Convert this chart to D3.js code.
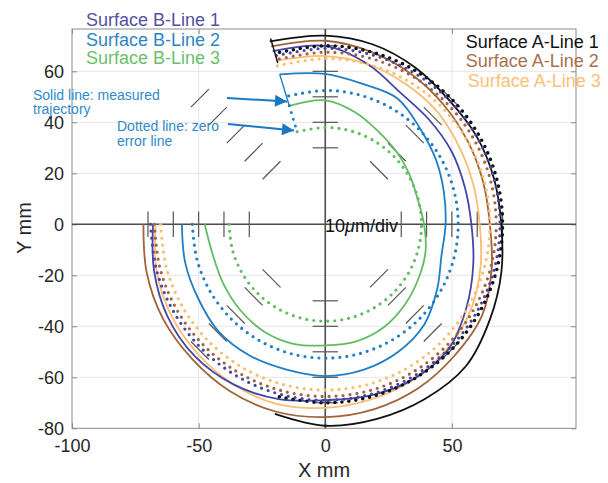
<!DOCTYPE html>
<html><head><meta charset="utf-8">
<script src="https://cdn.jsdelivr.net/npm/d3@7"></script>
<style>body{margin:0;background:#fff;} text{font-family:"Liberation Sans",Arial,sans-serif;}</style>
</head><body><svg id="c" width="608" height="483"></svg>
<script>
// ---------- data ----------
const xTicks = [-100, -50, 0, 50];
const yTicks = [-80, -60, -40, -20, 0, 20, 40, 60];
const seriesNames = ["Surface B-Line 1", "Surface B-Line 2", "Surface B-Line 3", "Surface A-Line 1", "Surface A-Line 2", "Surface A-Line 3"];
// polar angle (deg) of samples
const angleDeg = [-180,-165,-150,-135,-120,-105,-90,-75,-60,-45,-30,-15,0,15,30,45,60,75,90,107];
// measured trajectory radius (mm) per series at angleDeg
const rB1 = [68,70,72,73,72.5,71,69,69.5,70,69,64.5,60.5,57.7,57,57.5,58,59.5,65,70,71];
const rB2 = [56.6,57.3,58,59.5,59.5,59,59.5,59,57.7,55.4,51,47.5,47.5,48.5,50.5,53,57,57,59,61.5];
const rB3 = [47.6,46,46.5,47.5,48.5,48.5,47.5,47.5,46.5,44.5,42.5,41,39,37.8,38.5,40,42,45.5,48.6,48.6];
const rA1 = [null,null,null,null,null,77,79,79,79,78.6,75,72,69.5,69,69,69,71,73,74,75];
const rA2 = [71.8,73,74,74.5,75.5,76,75.6,75,74,72.5,71.5,68,65,64.5,65,66.2,68,70,72,73];
const rA3 = [67,69,70.5,71.5,72.5,73,72,71,70,68.5,66.5,63.5,61,60.5,61,62.5,63.5,65,66,67];
// zero error line radius (mm) and start angle per series
const zeroR = [69, 52.5, 38, 70, 67.5, 65];
const zeroStart = [-180, -180, -180, -105, -180, -180];
// radial connector segments at the start of the trajectories [angle, r0, r1, seriesIndex, dotted]
const connectors = [[107, 61.5, 48.6, 1, false], [107, 48.6, 38, 1, true], [106.5, 76, 66, 3, false]];
// polar scale marks
const polarRadii = [30, 40, 50, 60, 70];
const polarAngles = [0, 45, 90, 135, 180, 225, 270, 315];

const colors = ["#4646a6", "#1f7ec6", "#62bd62", "#111111", "#a0633b", "#fcbd72"];
const textColors = ["#55509f", "#2e86c1", "#6cbf6c", "#111111", "#a8704c", "#fdbf75"];

// ---------- chart ----------
const svg = d3.select("#c");
const x = d3.scaleLinear().domain([-100, 99]).range([72, 576]);
const y = d3.scaleLinear().domain([-80, 76.6]).range([428.3, 29]);
const rad = a => a * Math.PI / 180;

// grid
const g0 = svg.append("g");
xTicks.filter(v => v > -100).forEach(v => g0.append("line").attr("x1", x(v)).attr("x2", x(v)).attr("y1", y(-80)).attr("y2", y(76.6)).attr("stroke", "#e6e6e6"));
yTicks.filter(v => v > -80).forEach(v => g0.append("line").attr("x1", x(-100)).attr("x2", x(99)).attr("y1", y(v)).attr("y2", y(v)).attr("stroke", "#e6e6e6"));

// axes
function styleAxis(g) {
  g.select(".domain").remove();
  g.selectAll(".tick line").attr("stroke", "#8a8a8a");
  g.selectAll(".tick text").attr("fill", "#262626").style("font-size", "18px").style("font-family", "Liberation Sans, Arial, sans-serif");
}
svg.append("g").attr("transform", `translate(0,${y(-80)})`)
  .call(d3.axisBottom(x).tickValues(xTicks).tickSizeInner(-5).tickSizeOuter(0).tickPadding(11).tickFormat(d => String(d))).call(styleAxis);
svg.append("g").attr("transform", `translate(0,${y(76.6)})`)
  .call(d3.axisTop(x).tickValues(xTicks).tickSizeInner(-5).tickSizeOuter(0).tickFormat("")).call(styleAxis);
svg.append("g").attr("transform", `translate(${x(-100)},0)`)
  .call(d3.axisLeft(y).tickValues(yTicks).tickSizeInner(-5).tickSizeOuter(0).tickPadding(8).tickFormat(d => String(d))).call(styleAxis);
svg.append("g").attr("transform", `translate(${x(99)},0)`)
  .call(d3.axisRight(y).tickValues(yTicks).tickSizeInner(-5).tickSizeOuter(0).tickFormat("")).call(styleAxis);
svg.append("rect").attr("x", x(-100)).attr("y", y(76.6)).attr("width", x(99) - x(-100)).attr("height", y(-80) - y(76.6))
  .attr("fill", "none").attr("stroke", "#8a8a8a");

// centre cross
const gc = svg.append("g").attr("stroke", "#4d4d4d");
gc.append("line").attr("x1", x(-100)).attr("x2", x(99)).attr("y1", y(0)).attr("y2", y(0)).attr("stroke-width", 1.6);
gc.append("line").attr("x1", x(0)).attr("x2", x(0)).attr("y1", y(-80)).attr("y2", y(76.6)).attr("stroke-width", 1.6);

// polar scale marks (tangential)
const gp = svg.append("g").attr("stroke", "#555").attr("stroke-width", 1.2);
polarAngles.forEach(a => polarRadii.forEach(r => {
  const cx = r * Math.cos(rad(a)), cy = r * Math.sin(rad(a));
  const tx = -Math.sin(rad(a)) * 5, ty = Math.cos(rad(a)) * 5;
  gp.append("line").attr("x1", x(cx - tx)).attr("y1", y(cy - ty)).attr("x2", x(cx + tx)).attr("y2", y(cy + ty));
}));

// data lines
const lineGen = d3.line().defined(d => d.r != null)
  .x(d => x(d.r * Math.cos(rad(d.a)))).y(d => y(d.r * Math.sin(rad(d.a))))
  .curve(d3.curveCatmullRom.alpha(0.5));
const measured = [rB1, rB2, rB3, rA1, rA2, rA3];
const order = [5, 4, 3, 0, 1, 2];
const gd = svg.append("g").attr("fill", "none");
order.forEach(i => {
  gd.append("path").attr("d", lineGen(angleDeg.map((a, k) => ({a, r: measured[i][k]}))))
    .attr("stroke", colors[i]).attr("stroke-width", 1.8).attr("stroke-linejoin", "round");
});
order.forEach(i => {
  const pts = angleDeg.filter(a => a >= zeroStart[i]).map(a => ({a, r: zeroR[i]}));
  gd.append("path").attr("d", lineGen(pts))
    .attr("stroke", colors[i]).attr("stroke-width", i === 3 ? 3.6 : 3.2)
    .attr("stroke-linecap", "round").attr("stroke-dasharray", "0 7");
});
connectors.forEach(([a, r0, r1, i, dotted]) => {
  const l = gd.append("line")
    .attr("x1", x(r0 * Math.cos(rad(a)))).attr("y1", y(r0 * Math.sin(rad(a))))
    .attr("x2", x(r1 * Math.cos(rad(a)))).attr("y2", y(r1 * Math.sin(rad(a))))
    .attr("stroke", colors[i]);
  if (dotted) l.attr("stroke-width", 3).attr("stroke-linecap", "round").attr("stroke-dasharray", "0 7");
  else l.attr("stroke-width", 1.4);
});

// scale text
const t10 = svg.append("text").attr("x", 325).attr("y", 231.5).style("font-size", "18px").attr("fill", "#111");
t10.append("tspan").text("10");
t10.append("tspan").style("font-style", "italic").text("\u03bc");
t10.append("tspan").text("m/div");

// legends
const legB = [[86, 26], [86, 45.5], [86, 64]];
const legA = [[465.7, 48], [465.7, 67], [467.7, 87]];
[0, 1, 2].forEach(i => svg.append("text").attr("x", legB[i][0]).attr("y", legB[i][1]).style("font-size", "18px").attr("fill", textColors[i]).text(seriesNames[i]));
[3, 4, 5].forEach(i => svg.append("text").attr("x", legA[i - 3][0]).attr("y", legA[i - 3][1]).style("font-size", "18px").attr("fill", textColors[i]).text(seriesNames[i]));

// annotations
const annColor = "#2f89c9";
[["Solid line: measured", 33, 100], ["trajectory", 33, 114], ["Dotted line: zero", 117, 131], ["error line", 117, 146]]
  .forEach(([s, tx, ty]) => svg.append("text").attr("x", tx).attr("y", ty).style("font-size", "14px").attr("fill", annColor).text(s));
const defs = svg.append("defs");
defs.append("marker").attr("id", "ah").attr("viewBox", "0 0 10 10").attr("refX", 10).attr("refY", 5)
  .attr("markerWidth", 8).attr("markerHeight", 6).attr("markerUnits", "strokeWidth").attr("orient", "auto")
  .append("path").attr("d", "M0,0L10,5L0,10z").attr("fill", "#1a78c2");
[[227, 98, 287, 101.5], [228, 124, 294, 130.5]].forEach(([a, b, c, d]) =>
  svg.append("line").attr("x1", a).attr("y1", b).attr("x2", c).attr("y2", d)
    .attr("stroke", "#1a78c2").attr("stroke-width", 2).attr("marker-end", "url(#ah)"));

// axis labels
svg.append("text").attr("transform", "translate(31,228) rotate(-90)").attr("text-anchor", "middle").style("font-size", "20px").attr("fill", "#262626").text("Y mm");
svg.append("text").attr("x", 324).attr("y", 477).attr("text-anchor", "middle").style("font-size", "20px").attr("fill", "#262626").text("X mm");
</script></body></html>
